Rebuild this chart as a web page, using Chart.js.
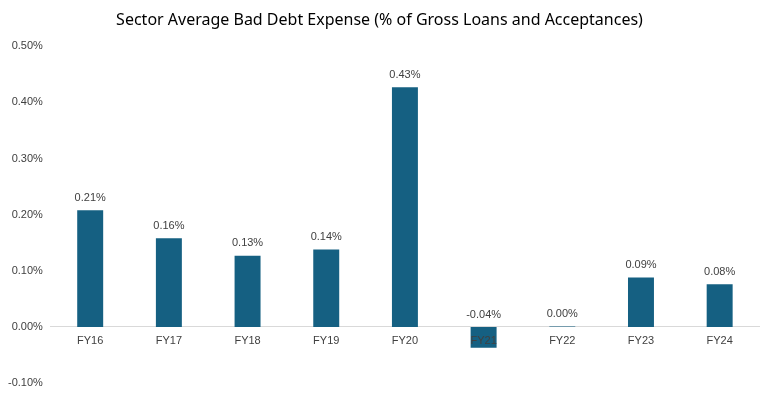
<!DOCTYPE html>
<html>
<head>
<meta charset="utf-8">
<script src="https://cdn.jsdelivr.net/npm/chart.js@4"></script>
<style>
  body { margin: 0; background: #fff; }
  #wrap { width: 762px; height: 395px; }
</style>
</head>
<body>
<div id="wrap"><canvas id="myChart" width="762" height="395"></canvas></div>
<script>
const years = ["FY16", "FY17", "FY18", "FY19", "FY20", "FY21", "FY22", "FY23", "FY24"];
const badDebt = [0.208, 0.158, 0.127, 0.138, 0.427, -0.037, 0.001, 0.088, 0.076];
const yTicks = [-0.1, 0, 0.1, 0.2, 0.3, 0.4, 0.5];

const FONT = '"Liberation Sans", Arial, sans-serif';

// value labels above each bar (above the zero line when negative),
// and the category names under the zero line, drawn over the bars
const barText = {
    id: 'barText',
    afterDatasetsDraw(chart) {
        const c = chart.ctx;
        const meta = chart.getDatasetMeta(0);
        const xs = chart.scales.x;
        const zero = chart.scales.y.getPixelForValue(0);
        c.save();
        c.font = '11px ' + FONT;
        c.fillStyle = '#404040';
        c.textAlign = 'center';
        c.textBaseline = 'bottom';
        meta.data.forEach((bar, i) => {
            const top = Math.min(bar.y, bar.base);
            c.fillText(badDebt[i].toFixed(2) + '%', bar.x, top - 7);
        });
        c.textBaseline = 'top';
        years.forEach((y, i) => {
            c.fillText(y, xs.getPixelForValue(i), zero + 8);
        });
        c.restore();
    }
};

const ctx = document.getElementById('myChart');

const myChart = new Chart(ctx, {
    type: 'bar',
    data: {
        labels: years,
        datasets: [{
            data: badDebt,
            backgroundColor: '#156082',
            barPercentage: 0.55,
            categoryPercentage: 0.6
        }]
    },
    options: {
        responsive: false,
        animation: false,
        layout: { padding: { left: 0, right: 3, bottom: 0 } },
        plugins: {
            legend: { display: false },
            tooltip: { enabled: false },
            title: {
                display: true,
                text: 'Sector Average Bad Debt Expense (% of Gross Loans and Acceptances)',
                color: '#000',
                font: { family: '"Noto Sans", sans-serif', size: 16, weight: 'normal' },
                padding: { top: 11, bottom: 16 }
            }
        },
        scales: {
            x: {
                position: { y: 0 },
                grid: { display: false, drawTicks: false },
                border: { display: true, color: '#d9d9d9', width: 1 },
                ticks: { display: false }
            },
            y: {
                min: -0.1,
                max: 0.5,
                afterBuildTicks(scale) {
                    scale.ticks = yTicks.map(v => ({ value: v }));
                },
                grid: { display: false, drawTicks: false },
                border: { display: false },
                ticks: {
                    color: '#404040',
                    padding: 8,
                    font: { family: FONT, size: 11, lineHeight: 0.7 },
                    callback: v => v.toFixed(2) + '%'
                }
            }
        }
    },
    plugins: [barText]
});
</script>
</body>
</html>
